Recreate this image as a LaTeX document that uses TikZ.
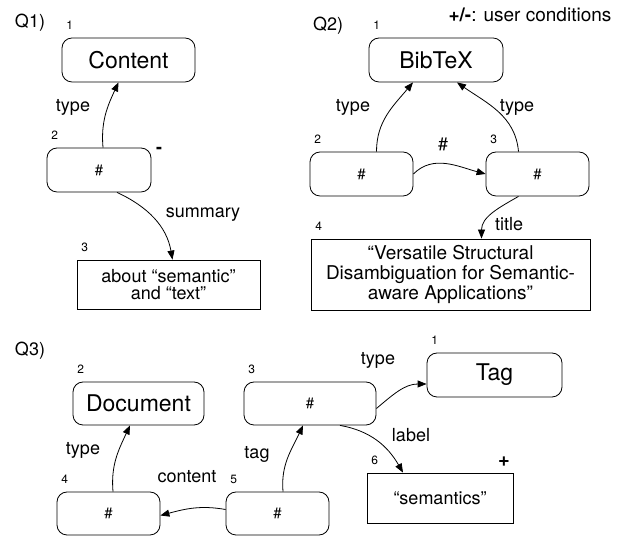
\documentclass[tikz,border=0pt]{standalone}
\usepackage{fontspec}
\setmainfont{TeX Gyre Heros}
\usetikzlibrary{arrows.meta}
\tikzset{
  classbox/.style={draw, rounded corners=10pt, minimum height=44pt, inner sep=0pt,
    font=\fontsize{23}{26}\selectfont},
  varbox/.style={draw, rounded corners=10pt, minimum width=103pt, minimum height=44pt,
    inner sep=0pt, font=\fontsize{15}{18}\selectfont},
  valbox/.style={draw, align=center, inner sep=0pt},
  numtag/.style={font=\fontsize{12}{12}\selectfont, anchor=center, xshift=8pt, yshift=12pt},
  edgelbl/.style={font=\fontsize{18}{18}\selectfont},
}
\begin{document}
\begin{tikzpicture}[x=1pt,y=1pt,line width=0.8pt,>={Triangle[length=9pt,width=7pt]}]
\useasboundingbox (0,0) rectangle (642,537);

% Q1
\node[edgelbl] (q1) at (30,514) {Q1)};
\node[classbox, minimum width=133pt, label={[numtag]north west:1}] (q1c) at (128.5,477) {Content};
\node[varbox, minimum width=104pt, label={[numtag]north west:2}] (q1v) at (99,367) {\#};
\node[valbox, minimum width=183pt, minimum height=49pt, font=\fontsize{18}{17}\selectfont,
  label={[numtag]north west:3}] (q1t) at (168.5,252.5) {about “semantic”\\and “text”};
\node[edgelbl, font=\bfseries\fontsize{18}{18}\selectfont] (q1minus) at (159,387) {-};

\draw[->] ([xshift=4pt]q1v.north) to[out=95,in=-115] ([xshift=-10pt]q1c.south);
\draw[->] ([xshift=18pt]q1v.south) to[out=-25,in=100] ([xshift=4pt]q1t.north);
\node[edgelbl] (q1type) at (73,430) {type};
\node[edgelbl] (q1summary) at (203,322) {summary};

% Q2
\node[font=\fontsize{19}{19}\selectfont] (cond) at (530,522) {\textbf{+/-}: user conditions};
\node[edgelbl] (q2) at (328,511) {Q2)};
\node[classbox, minimum width=134pt, label={[numtag]north west:1}] (q2c) at (436,477) {BibTeX};
\node[varbox, label={[numtag]north west:2}] (q2a) at (361.5,363) {\#};
\node[varbox, label={[numtag]north west:3}] (q2b) at (537.5,363) {\#};
\node[valbox, minimum width=279pt, minimum height=71pt, font=\fontsize{19}{20}\selectfont,
  label={[numtag]north west:4}] (q2t) at (450.5,262.5)
  {“Versatile Structural\\Disambiguation for Semantic-\\aware Applications”};

\draw[->] ([xshift=15pt]q2a.north) to[out=90,in=-130] ([xshift=-23pt]q2c.south);
\draw[->] ([xshift=-19pt]q2b.north) to[out=95,in=-35] ([xshift=21pt]q2c.south);
\draw[->] (q2a.east) to[out=45,in=165] (q2b.west);
\draw[->] ([xshift=-19pt]q2b.south) to[out=-150,in=90] ([xshift=31pt]q2t.north);
\node[edgelbl] (q2typea) at (353,430) {type};
\node[edgelbl] (q2typeb) at (517,430) {type};
\node[edgelbl] (q2hash) at (443,393) {\#};
\node[edgelbl] (q2title) at (509,313) {title};

% Q3
\node[edgelbl] (q3) at (30,186) {Q3)};
\node[classbox, minimum width=131pt, minimum height=43pt, label={[numtag]north west:2}] (q3doc) at (138.5,133.5) {Document};
\node[varbox, minimum width=132pt, minimum height=43pt, label={[numtag]north west:3}] (q3v3) at (310,133.5) {\#};
\node[classbox, minimum width=135pt, label={[numtag]north west:1}] (q3tag) at (494.5,162) {Tag};
\node[varbox, minimum height=43pt, label={[numtag]north west:4}] (q3v4) at (108.5,23.5) {\#};
\node[varbox, minimum height=43pt, label={[numtag]north west:5}] (q3v5) at (277.5,23.5) {\#};
\node[valbox, minimum width=146pt, minimum height=50pt, font=\fontsize{18}{18}\selectfont,
  label={[numtag]north west:6}] (q3lit) at (440,39) {“semantics”};
\node[edgelbl, font=\bfseries\fontsize{20}{20}\selectfont] (q3plus) at (504,75) {+};

\draw[->] ([xshift=4.5pt]q3v4.north) to[out=95,in=-115] ([xshift=-8.5pt]q3doc.south);
\draw[->] ([xshift=5.5pt]q3v5.north) to[out=95,in=-115] ([xshift=-7pt]q3v3.south);
\draw[->] ([yshift=4pt]q3v5.west) to[out=170,in=15] ([yshift=-2pt]q3v4.east);
\draw[->] ([yshift=-5pt]q3v3.east) to[out=40,in=180] ([yshift=-9pt]q3tag.west);
\draw[->] ([xshift=30pt]q3v3.south) to[out=-10,in=120] ([xshift=-37pt]q3lit.north);
\node[edgelbl] (q3typea) at (83,87) {type};
\node[edgelbl] (q3content) at (187,60) {content};
\node[edgelbl] (q3tagl) at (257,83) {tag};
\node[edgelbl] (q3typeb) at (378,177) {type};
\node[edgelbl] (q3label) at (411,102) {label};
\end{tikzpicture}
\end{document}
